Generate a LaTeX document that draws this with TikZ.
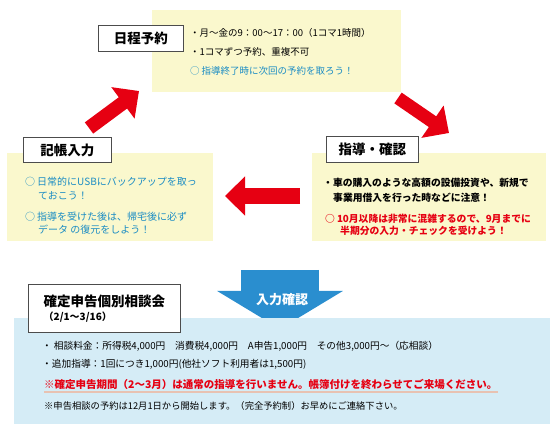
\documentclass[tikz,border=0pt]{standalone}
\usepackage{fontspec}
\setmainfont{Noto Sans CJK JP}
\usetikzlibrary{arrows.meta, positioning}

\definecolor{flowred}{HTML}{E60012}
\definecolor{notefill}{HTML}{FAF8CD}
\definecolor{infofill}{HTML}{D5ECF6}
\definecolor{checkblue}{HTML}{2A8ECF}
\definecolor{tipblue}{HTML}{1A8CC4}
\definecolor{markline}{HTML}{E8C2B2}

\begin{document}
\begin{tikzpicture}[
		x=1pt, y=-1pt,
		panel/.style={
			fill=#1, inner sep=0pt, anchor=north west
		},
		titlebox/.style={
			draw=black!70, line width=0.9pt, fill=white, inner sep=0pt,
			anchor=north west, font=\bfseries\fontsize{13.5}{16}\selectfont
		},
		bodytext/.style={
			anchor=west, inner sep=0pt, font=\fontsize{9.5}{12}\selectfont
		},
		boldtext/.style={
			bodytext, font=\bfseries\fontsize{9.8}{12}\selectfont
		},
		redarrow/.style={
			draw=flowred, line width=#1,
			-{Triangle[width=38pt, length=20pt]}
		}
		]
		
		\useasboundingbox (0,0) rectangle (560,430);
		
		% cycle panels
		\node[panel=notefill, minimum width=249pt, minimum height=82pt] (plan)  at (152,10)  {};
		\node[panel=notefill, minimum width=206pt, minimum height=88pt] (entry) at (7,153)   {};
		\node[panel=notefill, minimum width=234pt, minimum height=88pt] (check) at (312,153) {};
		
		\node[titlebox, minimum width=85pt, minimum height=26pt] (plan-title)  at (98,25)   {日程予約};
		\node[titlebox, minimum width=88pt, minimum height=25pt] (entry-title) at (23,137)  {記帳入力};
		\node[titlebox, minimum width=92pt, minimum height=26pt] (check-title) at (326,136) {指導・確認};
		
		\node[bodytext] (plan-1) at (190,33) {・月～金の9：00～17：00（1コマ1時間）};
		\node[bodytext] (plan-2) at (190,52) {・1コマずつ予約、重複不可};
		\node[bodytext, text=tipblue] (plan-3) at (190,71) {○\hspace{2pt}指導終了時に次回の予約を取ろう！};
		
		\node[bodytext, font=\fontsize{10}{12}\selectfont, text=tipblue] (entry-1) at (25,182) {○\hspace{2pt}日常的にUSBにバックアップを取っ};
		\node[bodytext, font=\fontsize{10}{12}\selectfont, text=tipblue] (entry-2) at (38,196) {ておこう！};
		\node[bodytext, font=\fontsize{10}{12}\selectfont, text=tipblue] (entry-3) at (25,217) {○\hspace{2pt}指導を受けた後は、帰宅後に必ず};
		\node[bodytext, font=\fontsize{10}{12}\selectfont, text=tipblue] (entry-4) at (38,230) {データ の復元をしよう！};
		
		\node[boldtext] (check-1) at (323,183) {・車の購入のような高額の設備投資や、新規で};
		\node[boldtext] (check-2) at (333,198) {事業用借入を行った時などに注意！};
		\node[boldtext, text=flowred] (check-3) at (325,219) {○\hspace{2pt}10月以降は非常に混雑するので、9月までに};
		\node[boldtext, text=flowred] (check-4) at (340,231) {半期分の入力・チェックを受けよう！};
		
		% cycle arrows
		\coordinate (up-from)   at (89,128);
		\coordinate (up-to)     at (139,91);
		\coordinate (down-from) at (398,98);
		\coordinate (down-to)   at (449,133);
		\coordinate (left-from) at (300,196);
		\coordinate (left-to)   at (225,196);
		\draw[redarrow=14pt] (up-from) -- (up-to);
		\draw[redarrow=13pt] (down-from) -- (down-to);
		\draw[redarrow=16pt] (left-from) -- (left-to);
		
		% input check arrow
		\coordinate (in-from) at (280,270);
		\coordinate (in-to)   at (280,329);
		\draw[draw=checkblue, line width=78pt, -{Triangle[width=124pt, length=38pt]}] (in-from) -- (in-to);
		\node[inner sep=0pt, text=white, font=\bfseries\fontsize{13}{15}\selectfont] (in-label) at (282,300) {入力確認};
		
		% consultation panel
		\node[panel=infofill, minimum width=536pt, minimum height=106pt] (consult) at (14,318) {};
		\node[titlebox, minimum width=152pt, minimum height=48pt, align=left] (consult-title) at (28,284)
			{確定申告個別相談会\\[-2pt]{\fontsize{10}{12}\selectfont（2/1～3/16）}};
		
		\node[bodytext, font=\fontsize{9.7}{12}\selectfont] (consult-1) at (42,346) {・\hspace{2pt}相談料金：所得税4,000円　消費税4,000円　A申告1,000円　その他3,000円～（応相談）};
		\node[bodytext, font=\fontsize{9.7}{12}\selectfont] (consult-2) at (42,364) {・追加指導：1回につき1,000円(他社ソフト利用者は1,500円)};
		\node[bodytext, font=\bfseries\fontsize{10.5}{12}\selectfont, text=flowred] (consult-3) at (44,384) {※確定申告期間（2～3月）は通常の指導を行いません。帳簿付けを終わらせてご来場ください。};
		\draw[markline, line width=2pt] ([yshift=-3pt]consult-3.south west) -- ([yshift=-3pt]consult-3.south east);
		\node[bodytext, font=\fontsize{9.3}{12}\selectfont] (consult-4) at (44,406) {※申告相談の予約は12月1日から開始します。（完全予約制）お早めにご連絡下さい。};
		
	\end{tikzpicture}
\end{document}
